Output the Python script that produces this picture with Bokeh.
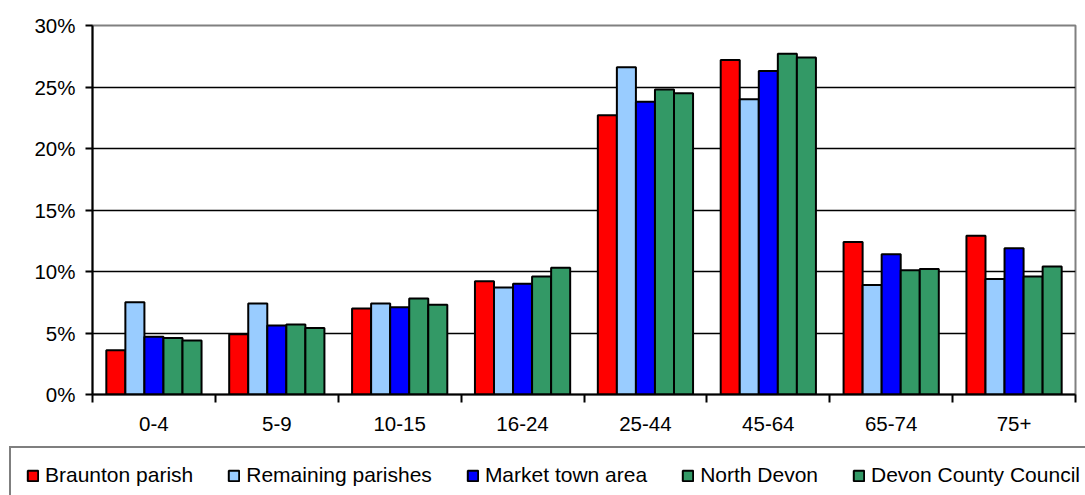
from bokeh.plotting import figure
from bokeh.layouts import column
from bokeh.models import (Range1d, LinearAxis, FixedTicker,
                          PrintfTickFormatter, Legend, LegendItem, ColumnDataSource)
from bokeh.transform import dodge
from bokeh.embed import file_html
from bokeh.resources import INLINE

categories = ["0-4", "5-9", "10-15", "16-24", "25-44", "45-64", "65-74", "75+"]
series_names = ["Braunton parish", "Remaining parishes", "Market town area",
                "North Devon", "Devon County Council"]
braunton = [3.6, 4.9, 7.0, 9.2, 22.7, 27.2, 12.4, 12.9]
remaining = [7.5, 7.4, 7.4, 8.7, 26.6, 24.0, 8.9, 9.4]
market = [4.7, 5.6, 7.1, 9.0, 23.8, 26.3, 11.4, 11.9]
north_devon = [4.6, 5.7, 7.8, 9.6, 24.8, 27.7, 10.1, 9.6]
devon_cc = [4.4, 5.4, 7.3, 10.3, 24.5, 27.4, 10.2, 10.4]
colors = ["#FF0000", "#99CCFF", "#0000FF", "#339966", "#339966"]
y_ticks = [0, 5, 10, 15, 20, 25, 30]

FONT = "Liberation Sans"
FS = "20.5px"

n = len(categories)
keys = ["s0", "s1", "s2", "s3", "s4"]
centers = [i + 0.5 for i in range(n)]
source = ColumnDataSource(data=dict(xc=centers, s0=braunton, s1=remaining,
                                    s2=market, s3=north_devon, s4=devon_cc))

p = figure(x_range=Range1d(0, n), y_range=Range1d(0, 30),
           width=1085, height=445, output_backend="svg", toolbar_location=None,
           x_axis_location=None, min_border_left=92, min_border_right=10,
           min_border_top=25, min_border_bottom=51)

bw = 0.155
offsets = [-2 * bw, -bw, 0, bw, 2 * bw]
for i, key in enumerate(keys):
    p.vbar(x=dodge("xc", offsets[i]), top=key, width=bw,
           source=source, fill_color=colors[i], line_color="black", line_width=2)

# y axis
p.yaxis.ticker = FixedTicker(ticks=y_ticks)
p.yaxis.formatter = PrintfTickFormatter(format="%d%%")
p.yaxis.axis_line_width = 2
p.yaxis.axis_line_color = "black"
p.yaxis.major_tick_out = 7
p.yaxis.major_tick_in = 0
p.yaxis.major_tick_line_width = 2
p.yaxis.minor_tick_line_color = None
p.yaxis.major_label_text_font = FONT
p.yaxis.major_label_text_font_size = FS
p.yaxis.major_label_text_color = "black"
p.yaxis.major_label_standoff = 10

# boundary tick axis
bounds = list(range(n + 1))
tick_axis = LinearAxis(ticker=FixedTicker(ticks=bounds),
                       major_label_overrides={b: "" for b in bounds},
                       major_label_text_font_size="1px", major_label_standoff=0,
                       major_tick_out=8, major_tick_in=0, major_tick_line_width=2,
                       axis_line_width=2, axis_line_color="black",
                       minor_tick_line_color=None)
p.add_layout(tick_axis, "below")

# category label axis
cat_axis = LinearAxis(ticker=FixedTicker(ticks=centers),
                      major_label_overrides={c: lab for c, lab in zip(centers, categories)},
                      axis_line_color=None, major_tick_line_color=None,
                      minor_tick_line_color=None, major_label_text_font=FONT,
                      major_label_text_font_size=FS, major_label_text_color="black",
                      major_label_standoff=8)
p.add_layout(cat_axis, "below")

p.xgrid.grid_line_color = None
p.ygrid.ticker = FixedTicker(ticks=[5, 10, 15, 20, 25])
p.ygrid.grid_line_color = "black"
p.ygrid.grid_line_width = 1.5
p.outline_line_color = "#808080"
p.outline_line_width = 2

# legend strip
lg = figure(x_range=Range1d(0, 1), y_range=Range1d(0, 1), width=1085, height=50,
            output_backend="svg", toolbar_location=None, x_axis_location=None,
            y_axis_location=None, min_border=0, outline_line_color=None)
lg.grid.visible = False
if "frame_align" in lg.properties():
    lg.frame_align = False
    p.frame_align = False
lg_renderers = []
for i, key in enumerate(keys):
    r = lg.vbar(x=dodge("xc", offsets[i]), top=key, width=bw, source=source,
                fill_color=colors[i], line_color="black", line_width=2, visible=False)
    lg_renderers.append(r)

legend = Legend(items=[LegendItem(label=nm, renderers=[r]) for nm, r in zip(series_names, lg_renderers)],
                orientation="horizontal", location=(9, -9),
                label_text_font=FONT, label_text_font_size="21px", label_text_color="black",
                glyph_width=13, glyph_height=13, label_standoff=6, spacing=34,
                padding=15, margin=0, border_line_color="black", border_line_width=2,
                label_height=21)
lg.add_layout(legend)

layout = column(p, lg, spacing=0)
open("out.html", "w").write(file_html(layout, INLINE))
